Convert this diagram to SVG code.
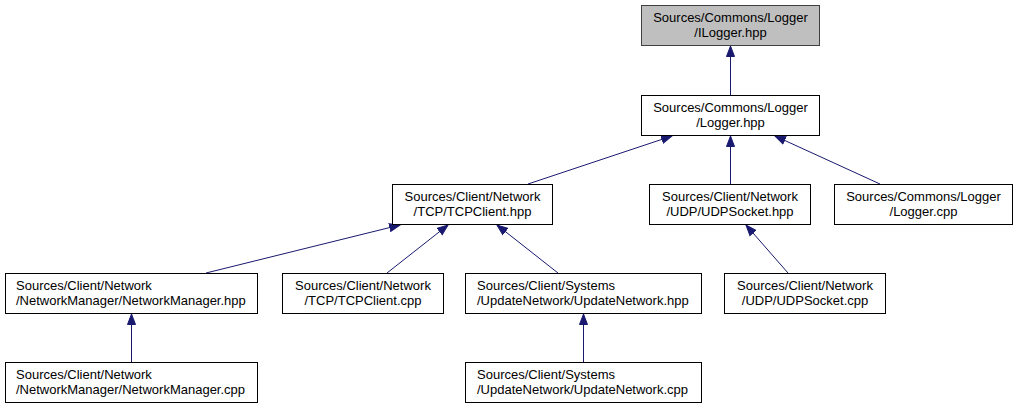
<svg xmlns="http://www.w3.org/2000/svg" width="1017" height="409" viewBox="0 0 1017 409">
<style>
.n rect{fill:#ffffff;stroke:#000000;stroke-width:1}
.n.hl rect{fill:#bfbfbf;stroke:#404040}
.n text{font-family:"Liberation Sans",Arial,sans-serif;font-size:13px;fill:#000000}
.c{text-anchor:middle}
.e path{fill:none;stroke:#191970;stroke-width:1;marker-end:url(#ah)}
</style>
<defs>
<marker id="ah" markerUnits="userSpaceOnUse" markerWidth="14" markerHeight="12" refX="11" refY="5" orient="auto">
<path d="M0.5,1 L11,5 L0.5,9 Z" fill="#191970" stroke="#191970" stroke-width="1"/>
</marker>
</defs>
<rect width="1017" height="409" fill="#ffffff"/>
<g id="edges" class="e">
<path d="M730.5,95 L730.5,46"/>
<path d="M528,184 L672,136"/>
<path d="M730.5,184 L730.5,136"/>
<path d="M880,184 L775,136"/>
<path d="M206,273 L400,225"/>
<path d="M387,273 L448,225"/>
<path d="M558,273 L497,225"/>
<path d="M788,273 L746,225"/>
<path d="M131.5,362 L131.5,314"/>
<path d="M583.5,362 L583.5,314"/>
</g>
<g id="n_ilogger_hpp" class="n hl">
<rect x="641.5" y="5.5" width="178" height="40"/>
<text class="c" x="730.5" y="22">Sources/Commons/Logger</text>
<text class="c" x="730.5" y="37">/ILogger.hpp</text>
</g>
<g id="n_logger_hpp" class="n">
<rect x="641.5" y="95.5" width="178" height="40"/>
<text class="c" x="730.5" y="112">Sources/Commons/Logger</text>
<text class="c" x="730.5" y="127">/Logger.hpp</text>
</g>
<g id="n_tcpclient_hpp" class="n">
<rect x="392.5" y="184.5" width="160" height="40"/>
<text class="c" x="472.5" y="201">Sources/Client/Network</text>
<text class="c" x="472.5" y="216">/TCP/TCPClient.hpp</text>
</g>
<g id="n_udpsocket_hpp" class="n">
<rect x="649.5" y="184.5" width="161" height="40"/>
<text class="c" x="730" y="201">Sources/Client/Network</text>
<text class="c" x="730" y="216">/UDP/UDPSocket.hpp</text>
</g>
<g id="n_logger_cpp" class="n">
<rect x="834.5" y="184.5" width="178" height="40"/>
<text class="c" x="923.5" y="201">Sources/Commons/Logger</text>
<text class="c" x="923.5" y="216">/Logger.cpp</text>
</g>
<g id="n_networkmanager_hpp" class="n">
<rect x="5.5" y="273.5" width="252" height="40"/>
<text x="16" y="290">Sources/Client/Network</text>
<text x="16" y="305">/NetworkManager/NetworkManager.hpp</text>
</g>
<g id="n_tcpclient_cpp" class="n">
<rect x="282.5" y="273.5" width="161" height="40"/>
<text class="c" x="363" y="290">Sources/Client/Network</text>
<text class="c" x="363" y="305">/TCP/TCPClient.cpp</text>
</g>
<g id="n_updatenetwork_hpp" class="n">
<rect x="465.5" y="273.5" width="236" height="40"/>
<text x="477" y="290">Sources/Client/Systems</text>
<text x="477" y="305">/UpdateNetwork/UpdateNetwork.hpp</text>
</g>
<g id="n_udpsocket_cpp" class="n">
<rect x="724.5" y="273.5" width="161" height="40"/>
<text class="c" x="805" y="290">Sources/Client/Network</text>
<text class="c" x="805" y="305">/UDP/UDPSocket.cpp</text>
</g>
<g id="n_networkmanager_cpp" class="n">
<rect x="5.5" y="362.5" width="252" height="40"/>
<text x="16" y="379">Sources/Client/Network</text>
<text x="16" y="394">/NetworkManager/NetworkManager.cpp</text>
</g>
<g id="n_updatenetwork_cpp" class="n">
<rect x="465.5" y="362.5" width="236" height="40"/>
<text x="477" y="379">Sources/Client/Systems</text>
<text x="477" y="394">/UpdateNetwork/UpdateNetwork.cpp</text>
</g>
</svg>
